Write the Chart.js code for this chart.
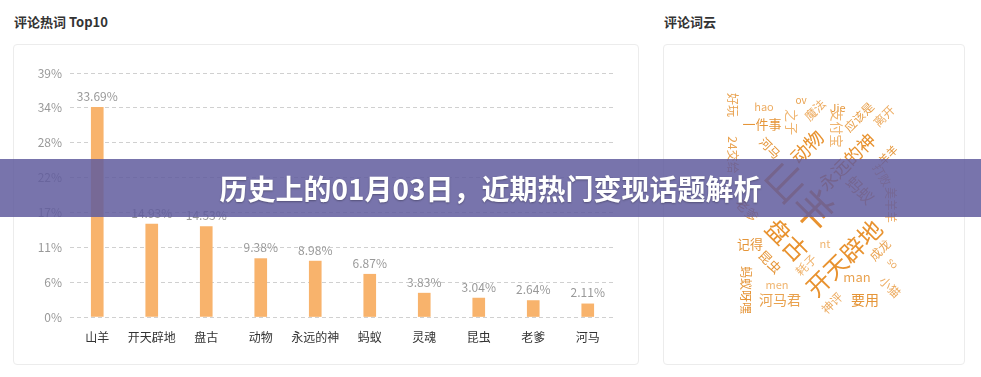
<!DOCTYPE html>
<html>
<head>
<meta charset="utf-8">
<script src="https://cdn.jsdelivr.net/npm/chart.js@4.4.0/dist/chart.umd.min.js"></script>
<style>
  body { margin: 0; width: 981px; height: 377px; background: #fff; position: relative; overflow: hidden;
         font-family: "Noto Sans CJK SC", "Noto Sans", sans-serif; }
  .title { position: absolute; top: 12px; font-size: 13px; font-weight: bold; color: #333; }
  .panel { position: absolute; border: 1px solid #ececec; border-radius: 4px; background: #fff; }
  canvas { position: absolute; }
  #banner { position: absolute; left: 0; top: 159px; width: 981px; height: 58px;
            background: rgba(96, 92, 158, 0.85); color: #fff; font-size: 28px; font-weight: bold;
            text-align: center; line-height: 58px; text-shadow: 0 1px 2px rgba(0,0,0,0.3); }
</style>
</head>
<body>
<div class="title" style="left:14px">评论热词 Top10</div>
<div class="title" style="left:664px">评论词云</div>
<div class="panel" style="left:13px;top:44px;width:624px;height:319px"></div>
<div class="panel" style="left:663px;top:44px;width:300px;height:319px"></div>
<canvas id="barChart" width="623" height="318" style="left:14px;top:45px"></canvas>
<canvas id="cloudChart" width="299" height="317" style="left:664px;top:45px"></canvas>
<div id="banner">历史上的01月03日，近期热门变现话题解析</div>

<script>
const palavras = ["山羊", "开天辟地", "盘古", "动物", "永远的神", "蚂蚁", "灵魂", "昆虫", "老爹", "河马"];
const percentuais = [33.69, 14.93, 14.53, 9.38, 8.98, 6.87, 3.83, 3.04, 2.64, 2.11];

// word cloud: words + layout inside the panel (x, y px, font size, angle)
const nuvemPalavras = ["好玩", "hao", "一件事", "之子", "ov", "魔法", "Jie", "支付宝", "应该是", "离开",
  "河马", "动物", "24交给", "永远的神", "羊羊", "打败", "蚂蚁", "美羊羊", "老爹", "山羊",
  "盘古", "开天辟地", "记得", "nt", "成龙", "so", "昆虫", "耗子", "man", "小猫",
  "蚂蚁呀嘿", "men", "河马君", "神评", "要用"];
const nuvemX = [69, 100, 98, 128, 137, 151, 174, 173, 195, 220,
  106, 143, 69, 183, 224, 218, 196, 227, 83, 136,
  123, 180, 86, 161, 216, 229, 106, 142, 193, 226,
  82, 113, 116, 168, 201];
const nuvemY = [60, 62, 79, 77, 55, 65, 63, 83, 72, 71,
  103, 102, 110, 117, 110, 130, 145, 160, 165, 150,
  195, 213, 199, 199, 205, 218, 217, 220, 232, 242,
  245, 240, 255, 258, 255];
const nuvemTam = [12, 11, 13, 13, 10, 12, 11, 13, 12, 12,
  12, 19, 12, 18, 11, 12, 16, 12, 13, 40,
  24, 24, 13, 11, 12, 10, 13, 12, 13, 12,
  12, 11, 14, 12, 14];
const nuvemAng = [90, 0, 0, 90, 0, -45, 0, 90, -45, -45,
  45, -45, 90, -45, -45, 60, 45, 90, 45, 45,
  45, -45, 0, 0, -45, 45, 45, -45, 0, 45,
  90, 0, 0, -45, 0];
const cores = ["#E9A24F", "#EDAC62", "#E59538", "#F0B570"];

const FONTE = '"Noto Sans CJK SC", "Noto Sans", sans-serif';

const rotulosBarras = {
  id: "rotulosBarras",
  afterDatasetsDraw(chart) {
    const c = chart.ctx;
    const meta = chart.getDatasetMeta(0);
    c.save();
    c.font = "12px " + FONTE;
    c.fillStyle = "#999";
    c.textAlign = "center";
    c.textBaseline = "bottom";
    meta.data.forEach((bar, i) => {
      c.fillText(percentuais[i].toFixed(2) + "%", bar.x, bar.y - 5);
    });
    c.restore();
  },
};

new Chart(document.getElementById("barChart").getContext("2d"), {
  type: "bar",
  data: {
    labels: palavras,
    datasets: [{
      data: percentuais,
      backgroundColor: "#F8B36C",
      barThickness: 12,
    }],
  },
  options: {
    responsive: false,
    animation: false,
    layout: { padding: { top: 28, right: 22, left: 0, bottom: 0 } },
    plugins: { legend: { display: false }, tooltip: { enabled: false } },
    scales: {
      x: {
        grid: { display: false },
        border: { display: false },
        ticks: { color: "#333", font: { size: 12, family: FONTE }, padding: 5, maxRotation: 0, autoSkip: false },
        afterFit: (s) => { s.height = 46; },
      },
      y: {
        min: 0,
        max: 39.2,
        grid: { color: "#d0d0d0", drawTicks: false },
        border: { display: false, dash: [4, 3] },
        ticks: {
          stepSize: 5.6,
          color: "#999",
          padding: 8,
          font: { size: 12, family: FONTE },
          callback: (v) => Math.round(v) + "%",
        },
        afterFit: (s) => { s.width = 56; },
      },
    },
  },
  plugins: [rotulosBarras],
});

const desenhaNuvem = {
  id: "desenhaNuvem",
  afterDatasetsDraw(chart) {
    const c = chart.ctx;
    const xs = chart.scales.x, ys = chart.scales.y;
    c.save();
    c.textAlign = "center";
    c.textBaseline = "middle";
    nuvemPalavras.forEach((w, i) => {
      c.save();
      c.translate(xs.getPixelForValue(nuvemX[i]), ys.getPixelForValue(nuvemY[i]));
      c.rotate((nuvemAng[i] * Math.PI) / 180);
      c.font = nuvemTam[i] + "px " + FONTE;
      c.fillStyle = nuvemTam[i] >= 18 ? "#E8922F" : cores[i % cores.length];
      c.fillText(w, 0, 0);
      c.restore();
    });
    c.restore();
  },
};

new Chart(document.getElementById("cloudChart").getContext("2d"), {
  type: "scatter",
  data: {
    datasets: [{
      data: nuvemX.map((x, i) => ({ x, y: nuvemY[i] })),
      pointRadius: 0,
    }],
  },
  options: {
    responsive: false,
    animation: false,
    layout: { padding: 0 },
    plugins: { legend: { display: false }, tooltip: { enabled: false } },
    scales: {
      x: { display: false, min: 0, max: 299 },
      y: { display: false, min: 0, max: 317, reverse: true },
    },
  },
  plugins: [desenhaNuvem],
});
</script>
</body>
</html>
